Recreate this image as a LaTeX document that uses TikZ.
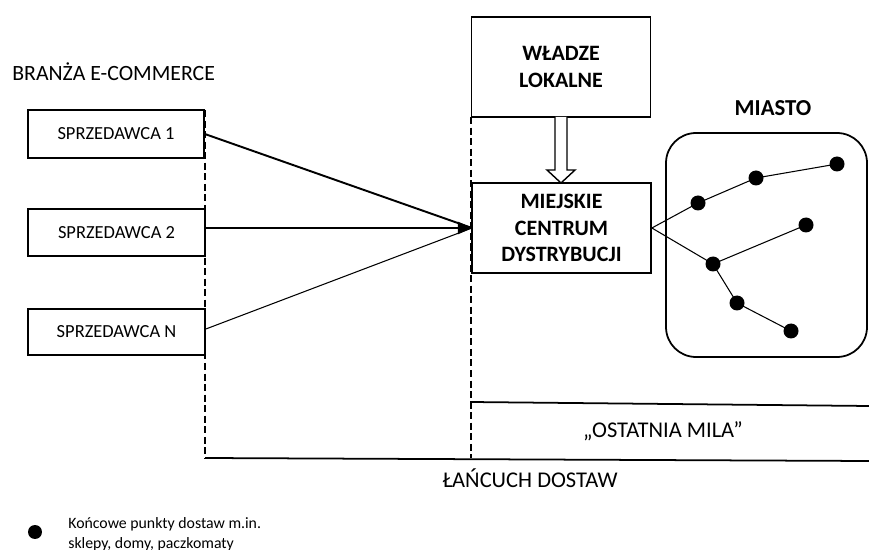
\documentclass[tikz,border=0pt]{standalone}
\usepackage{fontspec}
\setmainfont{Carlito}
\usetikzlibrary{arrows.meta}
\begin{document}
\begin{tikzpicture}[x=0.02cm,y=-0.02cm,
  box/.style={draw,line width=1pt,inner sep=0pt,font=\fontsize{10.5}{12}\selectfont},
  bbox/.style={draw,line width=1pt,inner sep=0pt,align=center,font=\bfseries\fontsize{12.5}{15}\selectfont},
  dot/.style={circle,fill=black,inner sep=0pt,minimum size=0.3cm},
  link/.style={line width=0.6pt},
  dashline/.style={line width=0.6pt,dash pattern=on 4pt off 2pt},
  lbl/.style={inner sep=0pt,font=\fontsize{12.8}{15}\selectfont},
  leg/.style={inner sep=0pt,anchor=base west,font=\fontsize{9}{11}\selectfont}]
\useasboundingbox (0,0) rectangle (869,550);
% title
\node[lbl,anchor=west,font=\fontsize{12.4}{15}\selectfont] (title) at (12,72) {BRANŻA E-COMMERCE};
% sellers
\node[box,minimum width=3.52cm,minimum height=0.96cm] (s1) at (116,134) {SPRZEDAWCA 1};
\node[box,minimum width=3.54cm,minimum height=0.94cm] (s2) at (116.5,232.5) {SPRZEDAWCA 2};
\node[box,minimum width=3.54cm,minimum height=0.92cm] (sN) at (116.5,332) {SPRZEDAWCA N};
% authorities and centre
\node[bbox,minimum width=3.58cm,minimum height=2cm] (wl) at (561,67) {WŁADZE\\LOKALNE};
\node[bbox,minimum width=3.58cm,minimum height=1.8cm] (mc) at (561.5,228) {MIEJSKIE\\CENTRUM\\DYSTRYBUCJI};
% dashed verticals
\coordinate (dl1) at (205,110);
\coordinate (dl2) at (205,458);
\coordinate (dr1) at (471,117);
\coordinate (dr2) at (471,458);
\draw[dashline] (dl1) -- (dl2);
\draw[dashline] (dr1) -- (dr2);
% arrows to centre
\coordinate (tip) at (472,228);
\draw[line width=1.1pt] (s1.east) -- (tip);
\draw[link,-{Triangle[length=8pt,width=7pt]}] (s2.east |- tip) -- (tip);
\draw[link] (sN.east) ++(0,-3) -- (tip);
% hollow arrow
\draw[line width=0.8pt,fill=white] (555,117) -- (555,170) -- (547,170) -- (561,183) -- (575,170) -- (567,170) -- (567,117);
% city
\node[font=\bfseries\fontsize{13}{16}\selectfont,inner sep=0pt] (miasto) at (773,108) {MIASTO};
\draw[line width=1pt,rounded corners=0.6cm] (666,133) rectangle (867,357);
\node[dot] (d1) at (698,203) {};
\node[dot] (d2) at (756,178) {};
\node[dot] (d3) at (837,164) {};
\node[dot] (d4) at (806,225) {};
\node[dot] (d5) at (713,264) {};
\node[dot] (d6) at (737,303) {};
\node[dot] (d7) at (791,331) {};
\draw[link] (mc.east) -- (d1.center) -- (d2.center) -- (d3.center);
\draw[link] (mc.east) -- (d5.center) -- (d4.center);
\draw[link] (d5.center) -- (d6.center) -- (d7.center);
% last mile / supply chain
\coordinate (lm0) at (471,409);
\coordinate (lm1) at (471,402);
\coordinate (lm2) at (869,406);
\draw[line width=1pt] (lm0) -- (lm1) -- (lm2);
\coordinate (sc1) at (205,458);
\coordinate (sc2) at (869,461);
\draw[line width=1pt] (sc1) -- (sc2);
\node[lbl] (ostat) at (663,431) {„OSTATNIA MILA”};
\node[lbl] (lanc) at (530,478) {ŁAŃCUCH DOSTAW};
% legend
\node[dot,minimum size=0.28cm] (ld) at (35,532) {};
\node[leg] (leg1) at (68,528) {Końcowe punkty dostaw m.in.};
\node[leg] (leg2) at (68,548) {sklepy, domy, paczkomaty};
\end{tikzpicture}
\end{document}
